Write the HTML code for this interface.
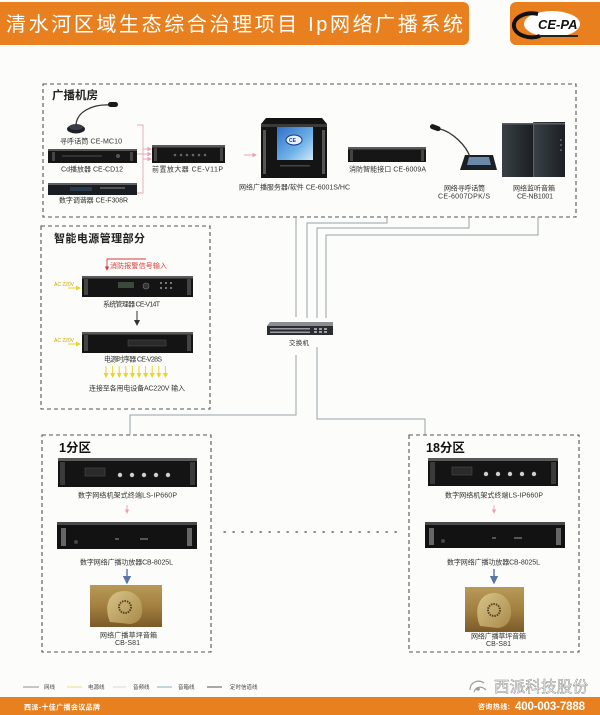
<!DOCTYPE html>
<html>
<head>
<meta charset="utf-8">
<style>
html,body{margin:0;padding:0;background:#fcfcfa;}
svg{display:block;}
text{font-family:"Liberation Sans","Noto Sans CJK SC",sans-serif;}
</style>
</head>
<body>
<svg width="600" height="715" viewBox="0 0 600 715" xmlns="http://www.w3.org/2000/svg">
<defs>
<linearGradient id="scr" x1="0" y1="0" x2="1" y2="1">
<stop offset="0" stop-color="#2f6fc8"/><stop offset="0.6" stop-color="#6fb2e8"/><stop offset="1" stop-color="#cfeaf7"/>
</linearGradient>
<linearGradient id="grass" x1="0" y1="0" x2="0" y2="1">
<stop offset="0" stop-color="#b89a58"/><stop offset="0.5" stop-color="#a48040"/><stop offset="1" stop-color="#7a5a28"/>
</linearGradient>
<linearGradient id="rock" x1="0" y1="0" x2="1" y2="1">
<stop offset="0" stop-color="#d8c488"/><stop offset="1" stop-color="#a88a4a"/>
</linearGradient>
<linearGradient id="spk" x1="0" y1="0" x2="1" y2="0">
<stop offset="0" stop-color="#3a4046"/><stop offset="0.5" stop-color="#2a2f34"/><stop offset="1" stop-color="#1c2024"/>
</linearGradient>
<marker id="pa" markerWidth="5" markerHeight="5" refX="4" refY="2.5" orient="auto"><path d="M0,0 L5,2.5 L0,5z" fill="#e8a0b4"/></marker>
<marker id="ba" markerWidth="6" markerHeight="6" refX="5" refY="3" orient="auto"><path d="M0,0 L6,3 L0,6z" fill="#5a74a8"/></marker>
<marker id="ka" markerWidth="6" markerHeight="6" refX="5" refY="3" orient="auto"><path d="M0,0 L6,3 L0,6z" fill="#333"/></marker>
<marker id="ra" markerWidth="5" markerHeight="5" refX="4" refY="2.5" orient="auto"><path d="M0,0 L5,2.5 L0,5z" fill="#d83838"/></marker>
<marker id="ya" markerWidth="5" markerHeight="5" refX="4" refY="2.5" orient="auto"><path d="M0,0 L5,2.5 L0,5z" fill="#e6d430"/></marker>
</defs>

<!-- Header -->
<rect x="-8" y="2" width="477" height="43" rx="6" fill="#e8801f"/>
<text x="6" y="31" font-size="20" fill="#ffffff" textLength="457" lengthAdjust="spacing">清水河区域生态综合治理项目 Ip网络广播系统</text>
<rect x="510" y="2" width="100" height="43" rx="6" fill="#e8801f"/>
<ellipse cx="552" cy="24" rx="28" ry="13" fill="#ffffff"/>
<path d="M538,14 A18,12 0 1,0 540,36" fill="none" stroke="#111" stroke-width="4"/>
<text x="538" y="29" font-size="13" font-weight="bold" font-style="italic" fill="#111">CE-PA</text>
<rect x="540" y="35" width="38" height="2" fill="#222"/>

<!-- Broadcast room box -->
<rect x="43" y="84" width="533" height="133" fill="none" stroke="#555" stroke-width="1.1" stroke-dasharray="4,3"/>
<text x="52" y="99" font-size="11.5" font-weight="bold" fill="#222" textLength="46">广播机房</text>

<!-- Mic CE-MC10 -->
<ellipse cx="76" cy="129" rx="9" ry="4.5" fill="#1c1f24"/>
<ellipse cx="76" cy="127" rx="7" ry="3" fill="#3a3f46"/>
<path d="M76,126 C76,112 92,104 110,105" fill="none" stroke="#333" stroke-width="1.3"/>
<rect x="108" y="102" width="10" height="5" rx="2.5" fill="#1a1a1a"/>
<text x="60" y="143.5" font-size="7" fill="#333" textLength="62">寻呼话筒 CE-MC10</text>

<!-- CD -->
<rect x="48" y="149" width="89" height="14" fill="#161616"/>
<rect x="48" y="149" width="89" height="2" fill="#555"/>
<rect x="52" y="152" width="3" height="9" fill="#444"/>
<rect x="130" y="152" width="3" height="9" fill="#444"/>
<rect x="62" y="155" width="40" height="2" fill="#333"/>
<circle cx="118" cy="156" r="2" fill="#555"/>
<text x="61" y="171.5" font-size="7" fill="#333" textLength="62">Cd播放器 CE-CD12</text>

<!-- Tuner -->
<rect x="48" y="183" width="89" height="12" fill="#1a1d22"/>
<rect x="48" y="183" width="89" height="2" fill="#5a6068"/>
<rect x="70" y="187" width="22" height="4" fill="#2a3a4a"/>
<rect x="100" y="187" width="25" height="2" fill="#555"/>
<text x="59" y="202.5" font-size="7" fill="#333" textLength="69">数字调谐器 CE-F308R</text>

<!-- pink bracket + arrows -->
<path d="M137,125 H143 V193 H137" fill="none" stroke="#e8a8b8" stroke-width="0.9"/>
<line x1="143" y1="149" x2="151" y2="149" stroke="#e8a0b4" stroke-width="0.9" marker-end="url(#pa)"/>
<line x1="137" y1="154" x2="151" y2="154" stroke="#e8a0b4" stroke-width="0.9" marker-end="url(#pa)"/>
<line x1="143" y1="159" x2="151" y2="159" stroke="#e8a0b4" stroke-width="0.9" marker-end="url(#pa)"/>

<!-- Preamp V11P -->
<rect x="152" y="145" width="73" height="18" fill="#151515"/>
<rect x="152" y="145" width="73" height="2.5" fill="#5a5a5a"/>
<rect x="154" y="148" width="3" height="13" fill="#444"/>
<rect x="220" y="148" width="3" height="13" fill="#444"/>
<g fill="#666"><circle cx="175" cy="155" r="1.3"/><circle cx="181" cy="155" r="1.3"/><circle cx="187" cy="155" r="1.3"/><circle cx="193" cy="155" r="1.3"/><circle cx="199" cy="155" r="1.3"/><circle cx="205" cy="155" r="1.3"/></g>
<text x="152" y="171.5" font-size="7" fill="#333" textLength="71">前置放大器 CE-V11P</text>

<line x1="244" y1="155" x2="256" y2="155" stroke="#e8a0b4" stroke-width="0.9" marker-end="url(#pa)"/>

<!-- Server -->
<path d="M266,118 H322 L327,124 V178 H261 V124 Z" fill="#141414"/>
<rect x="261" y="124" width="66" height="3" fill="#3a3a3a"/>
<rect x="263" y="130" width="3" height="44" fill="#555"/>
<rect x="322" y="130" width="3" height="44" fill="#555"/>
<rect x="277" y="127" width="36" height="33" fill="url(#scr)"/>
<ellipse cx="294" cy="140" rx="8" ry="5" fill="#e8f2ff" stroke="#1a3a8a" stroke-width="1"/>
<text x="289" y="142" font-size="5" font-weight="bold" fill="#1a3a8a">CE</text>
<rect x="280" y="165" width="30" height="1.5" fill="#444"/>
<text x="239" y="189.5" font-size="7" fill="#333" textLength="111">网络广播服务器/软件 CE-6001S/HC</text>

<!-- Fire interface -->
<rect x="348" y="147" width="78" height="15" fill="#161616"/>
<rect x="348" y="147" width="78" height="2.5" fill="#5a5a5a"/>
<rect x="350" y="150" width="3" height="11" fill="#444"/>
<rect x="421" y="150" width="3" height="11" fill="#444"/>
<text x="349" y="171.5" font-size="7" fill="#333" textLength="77">消防智能接口 CE-6009A</text>

<!-- Network paging mic -->
<path d="M465,155 H493 L497,170 H460 Z" fill="#1c1f24"/>
<path d="M469,157 H489 L491,165 H467 Z" fill="#6a88a8"/>
<path d="M470,157 C466,145 452,132 440,129" fill="none" stroke="#333" stroke-width="1.3"/>
<rect x="430" y="125" width="11" height="5" rx="2.5" fill="#1a1a1a" transform="rotate(20 435 127)"/>
<text x="444" y="190.5" font-size="7" fill="#333" textLength="41">网络寻呼话筒</text>
<text x="438" y="198.5" font-size="7" fill="#333" textLength="52">CE-6007DPK/S</text>

<!-- Monitor speaker -->
<rect x="502" y="123" width="31" height="54" fill="url(#spk)"/>
<rect x="534" y="122" width="31" height="55" fill="url(#spk)"/>
<rect x="533" y="122" width="1.2" height="55" fill="#5a6066"/>
<rect x="502" y="123" width="63" height="1.5" fill="#5a6066"/>
<g fill="#8a9096"><circle cx="561" cy="140" r="0.8"/><circle cx="561" cy="145" r="0.8"/><circle cx="561" cy="150" r="0.8"/></g>
<text x="513" y="190.5" font-size="7" fill="#333" textLength="42">网络监听音箱</text>
<text x="517" y="198.5" font-size="7" fill="#333" textLength="36">CE-NB1001</text>

<!-- Power management box -->
<rect x="41" y="226" width="169" height="183" fill="none" stroke="#555" stroke-width="1.1" stroke-dasharray="4,3"/>
<text x="54" y="242" font-size="11" font-weight="bold" fill="#222" textLength="91">智能电源管理部分</text>

<path d="M146,259 H107 V270" fill="none" stroke="#d83838" stroke-width="0.9" marker-end="url(#ra)"/>
<text x="110" y="268" font-size="7" fill="#d83838" textLength="57">消防报警信号输入</text>

<!-- V14T -->
<rect x="82" y="276" width="111" height="21" fill="#141414"/>
<rect x="82" y="276" width="111" height="2.5" fill="#5a5a5a"/>
<rect x="84" y="279" width="4" height="16" fill="#444"/>
<rect x="187" y="279" width="4" height="16" fill="#444"/>
<rect x="118" y="282" width="16" height="6" fill="#3a4a3a"/>
<circle cx="146" cy="286" r="3" fill="#333" stroke="#777" stroke-width="0.6"/>
<g fill="#777"><rect x="160" y="282" width="2" height="2"/><rect x="165" y="282" width="2" height="2"/><rect x="170" y="282" width="2" height="2"/><rect x="160" y="287" width="2" height="2"/><rect x="165" y="287" width="2" height="2"/><rect x="170" y="287" width="2" height="2"/></g>
<text x="54" y="286" font-size="5" fill="#c8a800">AC 220V</text>
<line x1="68" y1="288" x2="80" y2="288" stroke="#e6d430" stroke-width="1" marker-end="url(#ya)"/>
<text x="103" y="306.5" font-size="7" fill="#333" textLength="57">系统管理器 CE-V14T</text>

<line x1="137" y1="311" x2="137" y2="325" stroke="#333" stroke-width="1" marker-end="url(#ka)"/>

<!-- V28S -->
<rect x="82" y="332" width="111" height="21" fill="#141414"/>
<rect x="82" y="332" width="111" height="2.5" fill="#5a5a5a"/>
<rect x="84" y="335" width="4" height="16" fill="#444"/>
<rect x="187" y="335" width="4" height="16" fill="#444"/>
<rect x="128" y="340" width="38" height="6" fill="#2a2a2a" stroke="#555" stroke-width="0.5"/>
<text x="54" y="342" font-size="5" fill="#c8a800">AC 220V</text>
<line x1="68" y1="344" x2="80" y2="344" stroke="#e6d430" stroke-width="1" marker-end="url(#ya)"/>
<text x="104" y="361.5" font-size="7" fill="#333" textLength="58">电源时序器 CE-V28S</text>

<g stroke="#e6d430" stroke-width="1">
<line x1="106" y1="366" x2="106" y2="377" marker-end="url(#ya)"/>
<line x1="112.6" y1="366" x2="112.6" y2="377" marker-end="url(#ya)"/>
<line x1="119.2" y1="366" x2="119.2" y2="377" marker-end="url(#ya)"/>
<line x1="125.8" y1="366" x2="125.8" y2="377" marker-end="url(#ya)"/>
<line x1="132.4" y1="366" x2="132.4" y2="377" marker-end="url(#ya)"/>
<line x1="139" y1="366" x2="139" y2="377" marker-end="url(#ya)"/>
<line x1="145.6" y1="366" x2="145.6" y2="377" marker-end="url(#ya)"/>
<line x1="152.2" y1="366" x2="152.2" y2="377" marker-end="url(#ya)"/>
<line x1="158.8" y1="366" x2="158.8" y2="377" marker-end="url(#ya)"/>
<line x1="165.4" y1="366" x2="165.4" y2="377" marker-end="url(#ya)"/>
</g>
<text x="89" y="390.5" font-size="7" fill="#333" textLength="96">连接至各用电设备AC220V 输入</text>

<!-- Network lines -->
<g fill="none" stroke="#98a4a8" stroke-width="1">
<path d="M296,217 V317"/>
<path d="M307,318 V223 H387 V217"/>
<path d="M317,318 V228 H469 V217"/>
<path d="M326,318 V235 H538 V217"/>
<path d="M296,355 V415 H130 V435"/>
<path d="M317,347 V419 H425 V435"/>
</g>

<!-- Switch -->
<path d="M270,322 H333 L333,326 H267 Z" fill="#8a8e92"/>
<rect x="267" y="326" width="66" height="9" fill="#2a2c30"/>
<g fill="#9aa0a6">
<rect x="270" y="328" width="40" height="1.5"/><rect x="270" y="331.5" width="40" height="1.5"/>
<rect x="314" y="328" width="3" height="2"/><rect x="319" y="328" width="3" height="2"/><rect x="324" y="328" width="3" height="2"/>
<rect x="314" y="331" width="3" height="2"/><rect x="319" y="331" width="3" height="2"/><rect x="324" y="331" width="3" height="2"/>
</g>
<text x="289" y="345" font-size="6.5" fill="#333" textLength="20">交换机</text>

<!-- Zone 1 -->
<rect x="42" y="435" width="169" height="217" fill="none" stroke="#555" stroke-width="1.1" stroke-dasharray="4,3"/>
<text x="59" y="452" font-size="12.5" font-weight="bold" fill="#111">1分区</text>

<rect x="58" y="458" width="139" height="29" fill="#141414"/>
<rect x="58" y="458" width="139" height="3" fill="#5a5a5a"/>
<rect x="60" y="462" width="5" height="23" fill="#3a3a3a"/>
<rect x="190" y="462" width="5" height="23" fill="#3a3a3a"/>
<g fill="#cfcfcf"><circle cx="120" cy="475" r="2.2"/><circle cx="132" cy="475" r="2.2"/><circle cx="144" cy="475" r="2.2"/><circle cx="156" cy="475" r="2.2"/><circle cx="168" cy="475" r="2.2"/></g>
<rect x="85" y="468" width="20" height="8" fill="#2a2a2a" stroke="#555" stroke-width="0.5"/>
<text x="78" y="497.5" font-size="7" fill="#333" textLength="99">数字网络机架式终端LS-IP660P</text>

<line x1="127" y1="505" x2="127" y2="513" stroke="#e8a0b4" stroke-width="0.9" marker-end="url(#pa)"/>

<rect x="57" y="522" width="140" height="27" fill="#121212"/>
<rect x="57" y="522" width="140" height="3" fill="#4a4a4a"/>
<rect x="61" y="528" width="5" height="18" fill="#666"/>
<rect x="187" y="528" width="5" height="18" fill="#666"/>
<circle cx="76" cy="542" r="2" fill="#444"/>
<rect x="115" y="538" width="4" height="2" fill="#555"/>
<rect x="140" y="538" width="8" height="2" fill="#555"/>
<text x="80" y="564.5" font-size="7" fill="#333" textLength="93">数字网络广播功放器CB-8025L</text>

<line x1="127" y1="569" x2="127" y2="583" stroke="#5a74a8" stroke-width="1.4" marker-end="url(#ba)"/>

<rect x="90" y="585" width="72" height="42" fill="url(#grass)"/>
<path d="M110,622 C104,608 108,595 118,592 C130,588 142,596 142,608 C143,618 138,623 130,624 Z" fill="url(#rock)"/>
<circle cx="125" cy="607" r="6" fill="none" stroke="#5a4020" stroke-width="2" stroke-dasharray="1.5,1"/>
<text x="100" y="637.5" font-size="7" fill="#333" textLength="57">网络广播草坪音箱</text>
<text x="115" y="645" font-size="7" fill="#333" textLength="25">CB-S81</text>

<!-- dotted link -->
<line x1="224" y1="532" x2="397" y2="532" stroke="#444" stroke-width="1.3" stroke-dasharray="1.3,7.7" stroke-linecap="round"/>

<!-- Zone 18 -->
<rect x="409" y="435" width="170" height="217" fill="none" stroke="#555" stroke-width="1.1" stroke-dasharray="4,3"/>
<text x="426" y="452" font-size="12.5" font-weight="bold" fill="#111">18分区</text>

<rect x="428" y="458" width="130" height="28" fill="#141414"/>
<rect x="428" y="458" width="130" height="3" fill="#5a5a5a"/>
<rect x="430" y="462" width="5" height="22" fill="#3a3a3a"/>
<rect x="551" y="462" width="5" height="22" fill="#3a3a3a"/>
<g fill="#cfcfcf"><circle cx="486" cy="474" r="2.2"/><circle cx="498" cy="474" r="2.2"/><circle cx="510" cy="474" r="2.2"/><circle cx="522" cy="474" r="2.2"/><circle cx="534" cy="474" r="2.2"/></g>
<rect x="452" y="467" width="20" height="8" fill="#2a2a2a" stroke="#555" stroke-width="0.5"/>
<text x="445" y="497.5" font-size="7" fill="#333" textLength="98">数字网络机架式终端LS-IP660P</text>

<line x1="494" y1="505" x2="494" y2="513" stroke="#e8a0b4" stroke-width="0.9" marker-end="url(#pa)"/>

<rect x="425" y="522" width="140" height="26" fill="#121212"/>
<rect x="425" y="522" width="140" height="3" fill="#4a4a4a"/>
<rect x="429" y="528" width="5" height="17" fill="#666"/>
<rect x="556" y="528" width="5" height="17" fill="#666"/>
<circle cx="443" cy="541" r="2" fill="#444"/>
<rect x="492" y="537" width="4" height="2" fill="#555"/>
<rect x="514" y="537" width="8" height="2" fill="#555"/>
<text x="447" y="564.5" font-size="7" fill="#333" textLength="93">数字网络广播功放器CB-8025L</text>

<line x1="494" y1="569" x2="494" y2="583" stroke="#5a74a8" stroke-width="1.4" marker-end="url(#ba)"/>

<rect x="465" y="587" width="59" height="45" fill="url(#grass)"/>
<path d="M480,626 C474,612 478,598 488,594 C500,590 510,598 511,610 C512,621 506,627 498,628 Z" fill="url(#rock)"/>
<circle cx="494" cy="610" r="6" fill="none" stroke="#5a4020" stroke-width="2" stroke-dasharray="1.5,1"/>
<text x="471" y="638.5" font-size="7" fill="#333" textLength="55">网络广播草坪音箱</text>
<text x="486" y="646" font-size="7" fill="#333" textLength="25">CB-S81</text>

<!-- Legend -->
<g stroke-width="1">
<line x1="23" y1="687" x2="39" y2="687" stroke="#8a9296"/>
<line x1="67" y1="687" x2="82" y2="687" stroke="#e6e08a"/>
<line x1="113" y1="687" x2="126" y2="687" stroke="#d8dcde"/>
<line x1="157" y1="687" x2="172" y2="687" stroke="#8ab0c0"/>
<line x1="207" y1="687" x2="222" y2="687" stroke="#555"/>
</g>
<g font-size="5.5" fill="#444">
<text x="44" y="689">网线</text>
<text x="88" y="689">电源线</text>
<text x="133" y="689">音频线</text>
<text x="178" y="689">音箱线</text>
<text x="230" y="689">定时信道线</text>
</g>

<!-- Footer -->
<rect x="0" y="697" width="600" height="18" fill="#e8801f"/>
<text x="24" y="709.5" font-size="7" font-weight="bold" fill="#ffffff" textLength="76">西派-十佳广播会议品牌</text>
<text x="478" y="709" font-size="7" font-weight="bold" fill="#ffffff" textLength="32">咨询热线:</text>
<text x="515" y="710" font-size="11.5" font-weight="bold" fill="#ffffff" textLength="70">400-003-7888</text>

<!-- watermark -->
<g fill="none" stroke="#9a9a9a" stroke-width="1.2">
<path d="M470,690 C470,682 478,679 484,683"/>
<path d="M474,692 C476,686 482,686 486,690"/>
<circle cx="478" cy="689" r="1.2" fill="#9a9a9a"/>
</g>
<text x="494" y="692" font-size="15.5" fill="#ffffff" stroke="#8a8a8a" stroke-width="0.5" textLength="94">西派科技股份</text>
</svg>
</body>
</html>
